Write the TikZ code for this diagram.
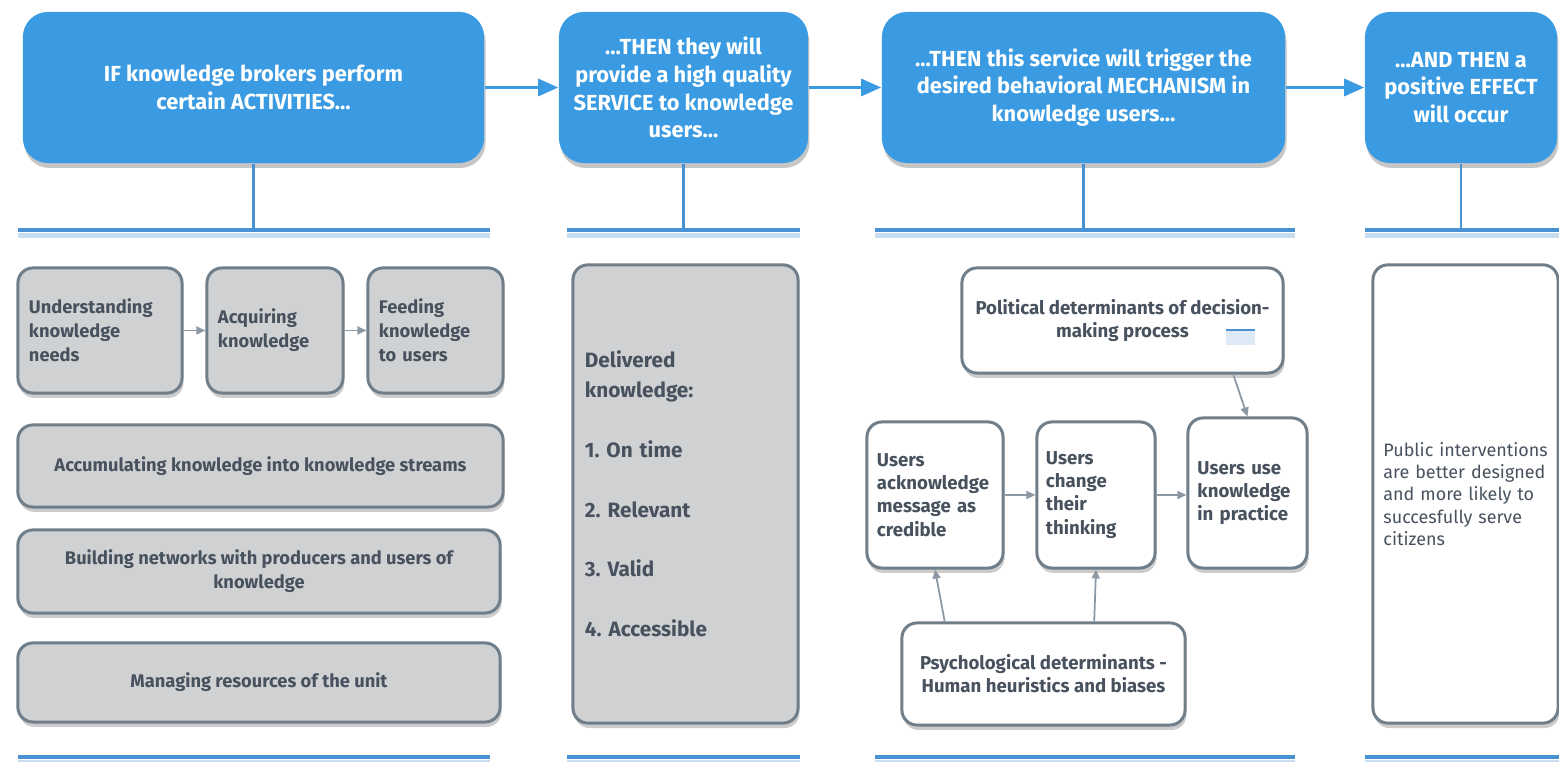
\documentclass[tikz,border=0pt]{standalone}
\usepackage{fontspec}
\setmainfont{Fira Sans}
\usetikzlibrary{arrows.meta}
\usetikzlibrary{shadows}
\definecolor{headblue}{RGB}{58,155,226}
\definecolor{barblue}{RGB}{72,146,212}
\definecolor{barshade}{RGB}{200,222,240}
\definecolor{boxgrey}{RGB}{208,209,211}
\definecolor{rimgrey}{RGB}{112,126,138}
\definecolor{inkgrey}{RGB}{72,82,94}
\definecolor{linkgrey}{RGB}{140,152,164}
\frenchspacing
\tikzset{
   headbox/.style={fill=headblue, rounded corners=0.25cm, text=white,
      align=center, inner sep=0pt, minimum height=1.51cm,
      font=\fontsize{6.2}{7.9}\selectfont\bfseries,
      drop shadow={shadow xshift=0.4pt, shadow yshift=-1.4pt, opacity=0.45}},
   greybox/.style={fill=boxgrey, draw=rimgrey, line width=0.85pt,
      rounded corners=0.15cm, text=inkgrey, inner sep=0pt,
      font=\fontsize{5.2}{6.8}\selectfont\bfseries,
      drop shadow={shadow xshift=0.4pt, shadow yshift=-1.4pt, opacity=0.4}},
   whitebox/.style={greybox, fill=white, font=\fontsize{5.3}{6.6}\selectfont\bfseries},
   flow/.style={draw=headblue, line width=0.9pt,
      -{Triangle[length=0.2cm, width=0.17cm]}},
   link/.style={draw=linkgrey, line width=0.5pt,
      -{Triangle[length=0.09cm, width=0.08cm]}},
   stem/.style={draw=barblue, line width=0.8pt},
   bar/.style={draw=barblue, line width=1pt,
      preaction={draw=barshade, line width=1.6pt, transform canvas={yshift=-1.6pt}}},
}
\begin{document}
\begin{tikzpicture}[x=0.01cm, y=-0.01cm]
  \useasboundingbox (0,0) rectangle (1559,762);
  % headers
  \node[headbox, minimum width=4.61cm] (act) at (253.5,87.5)
     {IF knowledge brokers perform\\certain ACTIVITIES...};
  \node[headbox, minimum width=2.49cm] (serv) at (683.5,87.5)
     {...THEN they will\\provide a high quality\\SERVICE to knowledge\\users...};
  \node[headbox, minimum width=4.03cm] (mech) at (1083.5,87.5)
     {...THEN this service will trigger the\\desired behavioral MECHANISM in\\knowledge users...};
  \node[headbox, minimum width=1.92cm] (eff) at (1461,87.5)
     {...AND THEN a\\positive EFFECT\\will occur};
  \draw[flow] (act) -- (serv);
  \draw[flow] (serv) -- (mech);
  \draw[flow] (mech) -- (eff);
  % bars
  \coordinate (bar1w) at (18,230);   \coordinate (bar1e) at (490,230);
  \coordinate (bar2w) at (567,230);  \coordinate (bar2e) at (800,230);
  \coordinate (bar3w) at (875,230);  \coordinate (bar3e) at (1295,230);
  \coordinate (bar4w) at (1365,230); \coordinate (bar4e) at (1559,230);
  \coordinate (foot1w) at (18,757);   \coordinate (foot1e) at (490,757);
  \coordinate (foot2w) at (567,757);  \coordinate (foot2e) at (800,757);
  \coordinate (foot3w) at (875,757);  \coordinate (foot3e) at (1295,757);
  \coordinate (foot4w) at (1365,757); \coordinate (foot4e) at (1559,757);
  \foreach \i in {1,2,3,4} {
     \draw[bar] (bar\i w) -- (bar\i e);
     \draw[bar] (foot\i w) -- (foot\i e);
  }
  \draw[stem] (act.south) -- (act.south |- bar1w);
  \draw[stem] (serv.south) -- (serv.south |- bar2w);
  \draw[stem] (mech.south) -- (mech.south |- bar3w);
  \draw[stem] (eff.south) -- (eff.south |- bar4w);
  % activities
  \node[greybox, minimum width=1.64cm, minimum height=1.25cm, text width=1.42cm, align=left]
     (und) at (100,330.5) {Understanding\\knowledge\\needs};
  \node[greybox, minimum width=1.36cm, minimum height=1.25cm, text width=1.14cm, align=left]
     (acq) at (275,330.5) {Acquiring\\knowledge};
  \node[greybox, minimum width=1.35cm, minimum height=1.25cm, text width=1.13cm, align=left]
     (feed) at (435.5,330.5) {Feeding\\knowledge\\to users};
  \draw[link] (und) -- (acq);
  \draw[link] (acq) -- (feed);
  \node[greybox, minimum width=4.85cm, minimum height=0.82cm, align=center]
     (accu) at (260.5,466) {Accumulating knowledge into knowledge streams};
  \node[greybox, minimum width=4.82cm, minimum height=0.83cm, align=center]
     (build) at (259,571.5) {Building networks with producers and users of\\knowledge};
  \node[greybox, minimum width=4.82cm, minimum height=0.79cm, align=center]
     (manage) at (259,682.5) {Managing resources of the unit};
  % service
  \node[greybox, minimum width=2.25cm, minimum height=4.58cm, text width=2.01cm, align=left,
     font=\fontsize{5.9}{8.5}\selectfont\bfseries]
     (deliv) at (685.5,494) {Delivered\\knowledge:\\[8.5pt]1. On time\\[8.5pt]2. Relevant\\[8.5pt]3. Valid\\[8.5pt]4. Accessible};
  % mechanism
  \node[whitebox, minimum width=3.21cm, minimum height=1.05cm, align=center]
     (poli) at (1122.5,320.5) {Political determinants of decision-\\making process};
  \fill[barshade!60] (1226,331) rectangle (1255,345);
  \draw[barblue, line width=0.6pt] (1226,330) -- (1255,330);
  \node[whitebox, minimum width=1.36cm, minimum height=1.46cm, text width=1.16cm, align=left]
     (ackn) at (935,495) {Users\\acknowledge\\message as\\credible};
  \node[whitebox, minimum width=1.18cm, minimum height=1.46cm, text width=1.0cm, align=left]
     (chng) at (1096,495) {Users\\change\\their\\thinking};
  \node[whitebox, minimum width=1.19cm, minimum height=1.50cm, text width=1.0cm, align=left]
     (use) at (1247.5,493) {Users use\\knowledge\\in practice};
  \node[whitebox, minimum width=2.83cm, minimum height=1.02cm, align=center]
     (psy) at (1043.5,674) {Psychological determinants -\\Human heuristics and biases};
  \draw[link] (ackn) -- (chng);
  \draw[link] (chng.east) -- (chng.east -| use.west);
  \draw[link] (poli.-26) -- (use.north);
  \draw[link] (psy.152) -- (ackn.south);
  \draw[link] (psy.46) -- (chng.south);
  % effect
  \node[whitebox, minimum width=1.85cm, minimum height=4.58cm, text width=1.80cm, align=left,
     font=\fontsize{5.1}{6.3}\selectfont]
     (out) at (1465.5,494) {\hspace*{0.08cm}Public interventions\\\hspace*{0.08cm}are better designed\\\hspace*{0.08cm}and more likely to\\\hspace*{0.08cm}succesfully serve\\\hspace*{0.08cm}citizens\\[0.12cm]};
\end{tikzpicture}
\end{document}
